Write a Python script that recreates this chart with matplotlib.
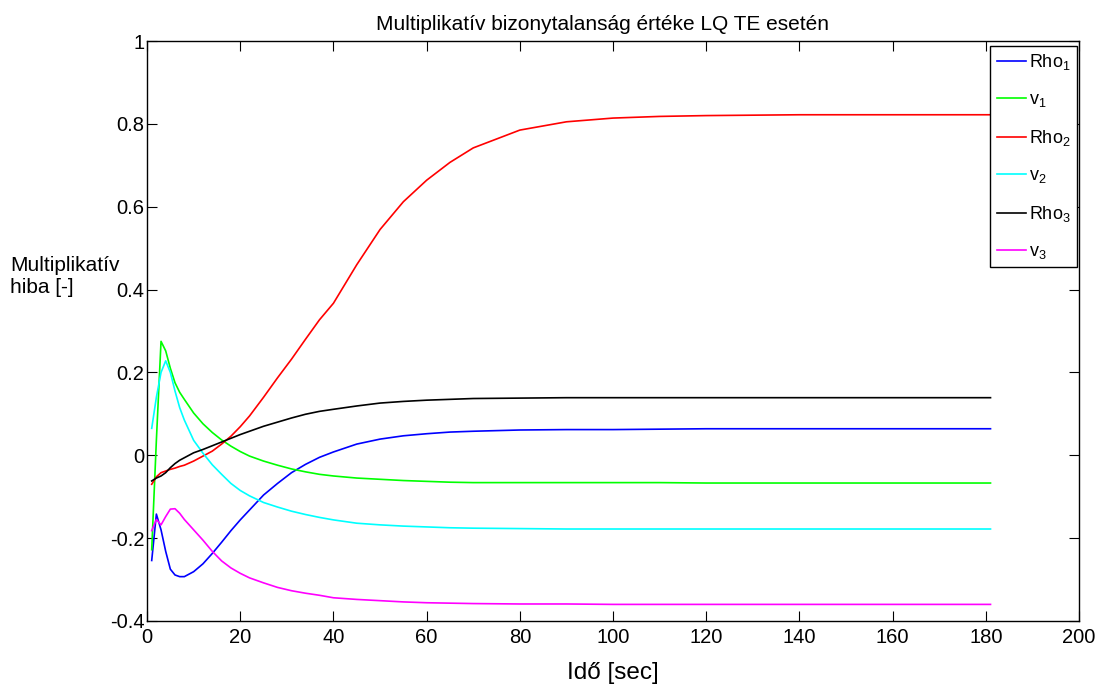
import matplotlib
matplotlib.use("Agg")
import matplotlib.pyplot as plt

# time samples (sec)
t = [1, 2, 3, 4, 5, 6, 7, 8, 10, 12, 14, 16, 18, 20, 22, 25, 28, 31, 34, 37,
     40, 45, 50, 55, 60, 65, 70, 80, 90, 100, 110, 120, 140, 160, 181]

rho1 = [-0.254, -0.142, -0.180, -0.232, -0.275, -0.289, -0.293, -0.293, -0.281, -0.262,
        -0.237, -0.210, -0.182, -0.156, -0.132, -0.096, -0.068, -0.042, -0.022, -0.005,
        0.008, 0.027, 0.039, 0.047, 0.052, 0.056, 0.058, 0.061, 0.062, 0.062,
        0.063, 0.064, 0.064, 0.064, 0.064]
v1 = [-0.228, 0.036, 0.275, 0.252, 0.210, 0.175, 0.152, 0.135, 0.102, 0.076,
      0.055, 0.037, 0.022, 0.009, -0.002, -0.014, -0.024, -0.033, -0.040, -0.046,
      -0.050, -0.055, -0.058, -0.061, -0.063, -0.065, -0.066, -0.066, -0.066, -0.066,
      -0.066, -0.067, -0.067, -0.067, -0.067]
rho2 = [-0.070, -0.052, -0.042, -0.038, -0.034, -0.031, -0.027, -0.024, -0.014, -0.002,
        0.010, 0.027, 0.046, 0.069, 0.095, 0.140, 0.187, 0.232, 0.280, 0.327,
        0.367, 0.460, 0.545, 0.612, 0.664, 0.707, 0.742, 0.785, 0.805, 0.814,
        0.818, 0.820, 0.822, 0.822, 0.822]
v2 = [0.065, 0.140, 0.200, 0.228, 0.200, 0.155, 0.115, 0.085, 0.036, 0.005,
      -0.023, -0.046, -0.068, -0.085, -0.098, -0.114, -0.125, -0.135, -0.143, -0.150,
      -0.156, -0.164, -0.168, -0.171, -0.173, -0.175, -0.176, -0.177, -0.178, -0.178,
      -0.178, -0.178, -0.178, -0.178, -0.178]
rho3 = [-0.062, -0.055, -0.050, -0.042, -0.030, -0.020, -0.012, -0.006, 0.006, 0.014,
        0.023, 0.032, 0.041, 0.050, 0.058, 0.070, 0.080, 0.090, 0.099, 0.106,
        0.111, 0.119, 0.126, 0.130, 0.133, 0.135, 0.137, 0.138, 0.139, 0.139,
        0.139, 0.139, 0.139, 0.139, 0.139]
v3 = [-0.182, -0.155, -0.168, -0.148, -0.130, -0.129, -0.140, -0.155, -0.180, -0.205,
      -0.232, -0.255, -0.272, -0.285, -0.296, -0.308, -0.319, -0.327, -0.333, -0.338,
      -0.344, -0.348, -0.351, -0.354, -0.356, -0.357, -0.358, -0.359, -0.359, -0.360,
      -0.360, -0.360, -0.360, -0.360, -0.360]

series = [
    ("Rho$_1$", rho1, "#0000ff"),
    ("v$_1$", v1, "#00ff00"),
    ("Rho$_2$", rho2, "#ff0000"),
    ("v$_2$", v2, "#00ffff"),
    ("Rho$_3$", rho3, "#000000"),
    ("v$_3$", v3, "#ff00ff"),
]

plt.rcParams['font.family'] = ['Liberation Sans', 'DejaVu Sans']
plt.rcParams['mathtext.default'] = 'regular'
plt.rcParams['font.size'] = 11

fig = plt.figure(figsize=(11.04, 6.86), dpi=100)
ax = fig.add_axes([0.1332, 0.0948, 0.8442, 0.8454])

for label, vals, color in series:
    ax.plot(t, vals, color=color, linewidth=1.2, label=label)

ax.set_xlim(0, 200)
ax.set_ylim(-0.4, 1)
ax.set_xticks(range(0, 201, 20))
ax.set_yticks([-0.4, -0.2, 0, 0.2, 0.4, 0.6, 0.8, 1])
ax.set_yticklabels(["-0.4", "-0.2", "0", "0.2", "0.4", "0.6", "0.8", "1"])
ax.tick_params(direction='in', top=True, right=True, length=7, width=0.8,
               labelsize=14.5)
ax.tick_params(axis='x', pad=5)
ax.tick_params(axis='y', pad=2)
for s in ax.spines.values():
    s.set_linewidth(1.0)

ax.set_title("Multiplikatív bizonytalanság értéke LQ TE esetén", fontsize=15, pad=8, x=0.489)
ax.set_xlabel("Idő [sec]", fontsize=17.5, labelpad=11)
fig.text(0.009, 0.597, "Multiplikatív\nhiba [-]", fontsize=15, ha='left', va='center',
         linespacing=1.15)

leg = ax.legend(loc='upper right', bbox_to_anchor=(0.998, 0.9914), fontsize=13,
                fancybox=False, edgecolor='black', framealpha=1, handlelength=1.6,
                labelspacing=1.05, borderaxespad=0, handletextpad=0.2, borderpad=0.35)
leg.get_frame().set_linewidth(1.0)

fig.savefig("out.png", dpi=100)
